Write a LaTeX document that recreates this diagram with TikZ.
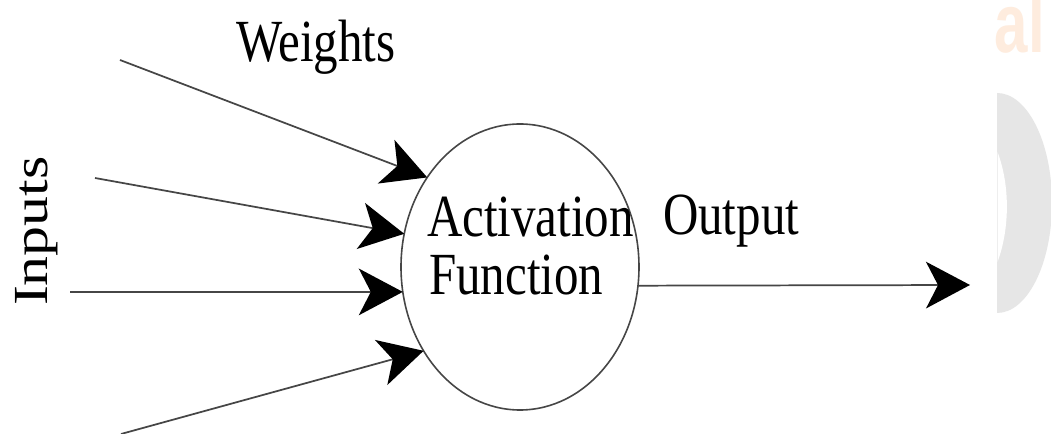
\documentclass[tikz,border=0pt]{standalone}
\usepackage{fontspec}
\setmainfont{Liberation Serif}
\newfontfamily\wmsans{Liberation Sans}
\usetikzlibrary{arrows.meta,shapes.geometric}
\definecolor{linegray}{RGB}{70,70,70}
\definecolor{wmgray}{RGB}{230,230,230}
\definecolor{wmorange}{RGB}{254,236,222}
\tikzset{
  lbl/.style={inner sep=0pt, outer sep=0pt, font=\fontsize{36.75}{40}\selectfont, text=black},
  conn/.style={draw=linegray, line width=1.3pt, -{Stealth[length=33pt, width=35pt, inset=9pt, color=black, fill=black]}},
  actnode/.style={ellipse, draw=linegray, line width=1.2pt, inner sep=0pt, outer sep=0pt,
    minimum width=178.5pt, minimum height=214.5pt}
}
\begin{document}
\begin{tikzpicture}[x=0.75pt,y=-0.75pt]
\useasboundingbox (0,0) rectangle (1051,434);
\clip (0,0) rectangle (1051,434);
\fill[white] (0,0) rectangle (1051,434);
% watermark remnants
\fill[wmgray] (997,93) arc[start angle=90, end angle=-90, x radius=55, y radius=-110] -- cycle;
\fill[white] (997.5,152) .. controls (1010,185) and (1010,228) .. (997.5,262) -- cycle;
\node[anchor=base west, inner sep=0pt, text=wmorange, font=\wmsans\bfseries\fontsize{45}{50}\selectfont] (wm) at (994.5,53) {\scalebox{1}[1.4]{al}};
% main diagram
\node[actnode] (act) at (520,267) {};
\node[lbl, anchor=base west] (actA) at (427,237) {\scalebox{1}[1.22]{Activation}};
\node[lbl, anchor=base west] (actF) at (429,295) {\scalebox{1}[1.22]{Function}};
\node[lbl, anchor=base west] (weights) at (236,62) {\scalebox{1}[1.22]{Weights}};
\node[lbl, anchor=base west] (output) at (663,235) {\scalebox{1}[1.22]{Output}};
\node[lbl, anchor=base west, rotate=90] (inputs) at (47,306) {\scalebox{1.22}[1]{Inputs}};
\coordinate (in1) at (120,60);
\coordinate (in2) at (95,178);
\coordinate (in3) at (70,292);
\coordinate (in4) at (121,434);
\coordinate (out) at (970,285);
\draw[conn] (in1) -- (act.136.9);
\draw[conn] (in2) -- (act.164.7);
\draw[conn] (in3) -- (act.192.1);
\draw[conn] (in4) -- (act.221.1);
\draw[conn] (act.351.3) -- (out);
\end{tikzpicture}
\end{document}
